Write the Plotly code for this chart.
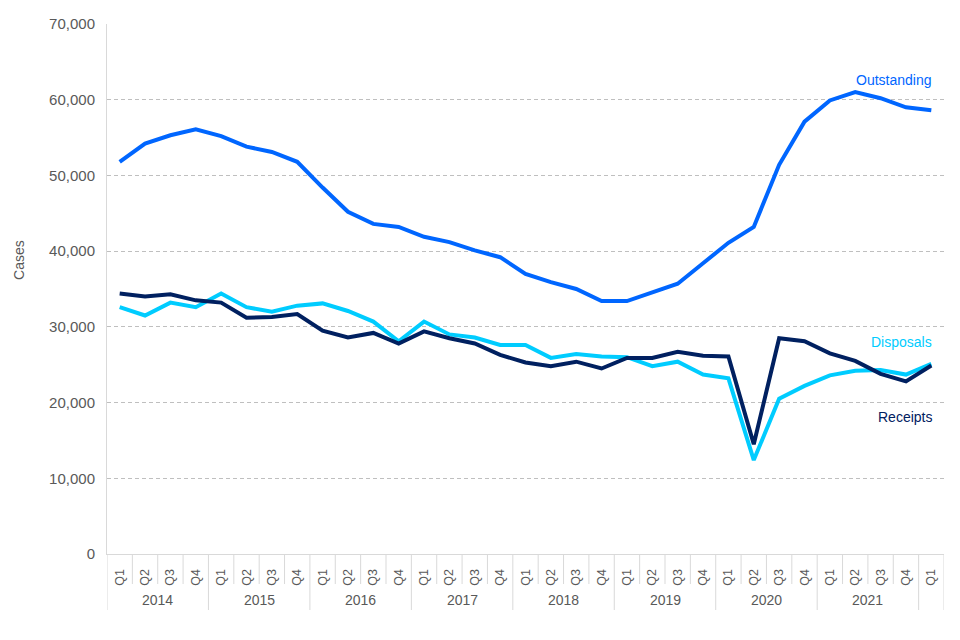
import plotly.graph_objects as go

years = ["2014"] * 4 + ["2015"] * 4 + ["2016"] * 4 + ["2017"] * 4 + ["2018"] * 4 + \
        ["2019"] * 4 + ["2020"] * 4 + ["2021"] * 4 + [""]
quarters = ["Q1", "Q2", "Q3", "Q4"] * 8 + ["Q1"]

outstanding = [51800, 54200, 55300, 56100, 55200, 53800, 53100, 51800,
               48400, 45200, 43600, 43200, 41900, 41200, 40100, 39200,
               37000, 35900, 35000, 33400, 33400, 34600, 35700, 38400,
               41100, 43200, 51400, 57100, 59900, 61000, 60200, 59000, 58600]
receipts = [34400, 34000, 34300, 33500, 33200, 31200, 31300, 31700,
            29500, 28600, 29200, 27800, 29400, 28500, 27800, 26300,
            25300, 24800, 25400, 24500, 25900, 25900, 26700, 26200,
            26100, 14500, 28500, 28100, 26500, 25500, 23800, 22800, 24900]
disposals = [32600, 31500, 33200, 32600, 34400, 32600, 32000, 32800,
             33100, 32100, 30700, 28100, 30700, 29000, 28600, 27600,
             27600, 25900, 26400, 26100, 26000, 24800, 25400, 23700,
             23200, 12400, 20500, 22200, 23600, 24200, 24300, 23700, 25100]

series = [
    ("Outstanding", outstanding, "#0066FF", 62600),
    ("Disposals", disposals, "#00CCFF", 28000),
    ("Receipts", receipts, "#002060", 18100),
]

n = len(quarters)
idx = list(range(n))
GRID = "#D9D9D9"
TXT = "#595959"
FONT = "Liberation Sans"

fig = go.Figure()
for name, vals, color, label_y in series:
    fig.add_trace(go.Scatter(x=idx, y=vals, mode="lines", name=name,
                             line=dict(color=color, width=4)))
    fig.add_annotation(text=name, xref="paper", x=0.988, y=label_y, yref="y",
                       xanchor="right", yanchor="middle", showarrow=False,
                       font=dict(color=color, size=14, family=FONT))

# category separators (short between quarters, long between years)
for b in range(n + 1):
    is_year_edge = b == 0 or b == n or years[b] != years[b - 1]
    fig.add_shape(type="line", xref="x", yref="paper", x0=b - 0.5, x1=b - 0.5,
                  ysizemode="pixel", yanchor=0, y0=0, y1=-56 if is_year_edge else -30,
                  line=dict(color=GRID, width=1), layer="below")

# year group labels
start = 0
for i in range(1, n + 1):
    if i == n or years[i] != years[start]:
        if years[start]:
            fig.add_annotation(text=years[start], xref="x", yref="paper",
                               x=(start + i - 1) / 2, y=0, yshift=-46,
                               yanchor="middle", xanchor="center", showarrow=False,
                               font=dict(color=TXT, size=14, family=FONT))
        start = i

fig.add_annotation(text="Cases", xref="paper", yref="paper",
                   x=-0.105, y=0.555, textangle=-90, showarrow=False,
                   xanchor="center", yanchor="middle",
                   font=dict(color=TXT, size=14, family=FONT))

fig.update_layout(
    width=960, height=640,
    margin=dict(l=107, r=16, t=24, b=86),
    paper_bgcolor="white", plot_bgcolor="white",
    showlegend=False,
    font=dict(family=FONT, color=TXT),
    xaxis=dict(
        range=[-0.5, n - 0.5], automargin=False,
        tickmode="array", tickvals=idx, ticktext=quarters,
        tickangle=-90,
        tickfont=dict(size=12.5, color=TXT),
        showline=True, linecolor=GRID, linewidth=1,
        ticks="", showgrid=False, zeroline=False,
        ticklabelstandoff=9,
    ),
    yaxis=dict(
        range=[0, 70000], dtick=10000, tickformat=",", automargin=False,
        tickfont=dict(size=15, color=TXT),
        showgrid=True, gridcolor="#BFBFBF", griddash="4px,3px", gridwidth=1,
        showline=True, linecolor=GRID, linewidth=1,
        zeroline=False, ticklabelstandoff=8,
    ),
)

fig.write_html("out.html",
               config={"displayModeBar": False},
               post_script="document.body.style.margin='0';document.body.style.overflow='hidden';")
